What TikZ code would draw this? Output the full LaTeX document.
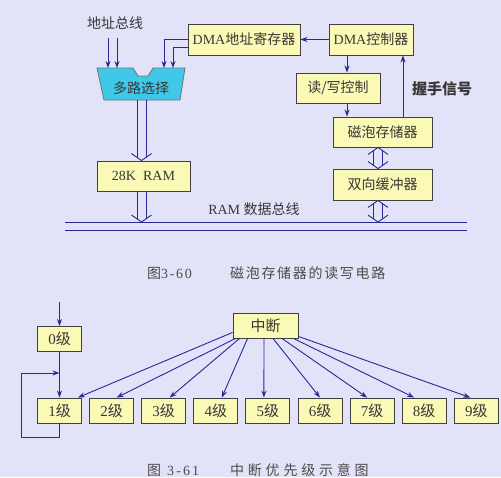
\documentclass[tikz,border=0pt]{standalone}
\usepackage{fontspec}
\setmainfont{Liberation Serif}
\newfontfamily\cjk{Noto Sans CJK SC}
\usetikzlibrary{arrows.meta}
\definecolor{bg}{RGB}{226,226,248}
\definecolor{boxy}{RGB}{250,250,182}
\definecolor{muxc}{RGB}{64,200,232}
\definecolor{ln}{RGB}{40,40,150}
\definecolor{txt}{RGB}{55,55,55}
% double-line arrow: #1 start, #2 end (vertically aligned), #3 = 1 if both ends have heads
\newcommand\DblArrow[3]{%
  \draw[conn] ([xshift=-4.5pt,yshift=3.2pt]#2) -- ([xshift=-4.5pt,yshift=-3.2pt*#3]#1);
  \draw[conn] ([xshift=4.5pt,yshift=3.2pt]#2) -- ([xshift=4.5pt,yshift=-3.2pt*#3]#1);
  \draw[conn] ([xshift=-10pt,yshift=7pt]#2) -- (#2) -- ([xshift=10pt,yshift=7pt]#2);
  \ifnum#3=1
    \draw[conn] ([xshift=-10pt,yshift=-7pt]#1) -- (#1) -- ([xshift=10pt,yshift=-7pt]#1);
  \fi}
\begin{document}
\begin{tikzpicture}[x=1pt,y=-1pt,
  box/.style={draw=black!75, fill=boxy, line width=0.9pt, inner sep=0pt, text=txt,
              font=\fontsize{14}{16}\selectfont},
  lvl/.style={box, minimum width=44pt, minimum height=25pt, font=\fontsize{15}{17}\selectfont},
  lbl/.style={text=txt, inner sep=0pt, font=\fontsize{14}{16}\selectfont},
  conn/.style={draw=ln, line width=0.9pt},
  arr/.style={conn, -{Stealth[length=7pt,width=5pt]}},
]
\fill[bg] (0,0) rectangle (501,477);
\useasboundingbox (0,0) rectangle (501,477);

% ---------- Figure 3-60 ----------
\node[lbl] (abus) at (115,23) {\cjk 地址总线};
\coordinate (ab1s) at (108,38); \coordinate (ab1e) at (108,68);
\coordinate (ab2s) at (117,38); \coordinate (ab2e) at (117,68);

\draw[draw=black!55, fill=muxc, line width=0.8pt]
  (97,68) -- (133,68) -- (138,76) -- (148,76) -- (153,68) -- (185,68)
  -- (180,100) -- (104,100) -- cycle;
\node[lbl] (mux) at (141,88) {\cjk 多路选择};
\coordinate (mxa) at (164,68);
\coordinate (mxb) at (173,68);
\coordinate (muxout) at (141.5,100);

\node[box, minimum width=112pt, minimum height=31pt] (dmaaddr) at (244,39.5) {DMA\cjk 地址寄存器};
\node[box, minimum width=84pt, minimum height=31pt] (dmactl) at (371,39.5) {DMA\cjk 控制器};
\node[box, minimum width=84pt, minimum height=30pt] (rw) at (338,88) {\cjk 读/写控制};
\node[box, minimum width=99pt, minimum height=30pt] (bub) at (382.5,132) {\cjk 磁泡存储器};
\node[box, minimum width=99pt, minimum height=31pt] (buf) at (382.5,184.5) {\cjk 双向缓冲器};
\node[box, minimum width=93pt, minimum height=30pt] (ram) at (143.5,176) {28K\ \ RAM};

\node[lbl, font=\fontsize{15}{17}\selectfont\bfseries] (hs) at (442,89) {\cjk\bfseries 握手信号};
\node[lbl] (busl) at (254,209) {RAM\ {\cjk 数据总线}};

\coordinate (busAl) at (65,222); \coordinate (busAr) at (467,222);
\coordinate (busBl) at (65,230); \coordinate (busBr) at (467,230);
\draw[conn] (busAl) -- (busAr);
\draw[conn] (busBl) -- (busBr);

\draw[arr] (ab1s) -- (ab1e);
\draw[arr] (ab2s) -- (ab2e);
\draw[arr] (dmaaddr.west) -| (mxa);
\draw[arr] ([yshift=-8pt]dmaaddr.west) -| (mxb);
\draw[arr] (dmactl.west) -- (dmaaddr.east);
\draw[arr] ([xshift=-24pt]dmactl.south) -- ([xshift=-24pt]dmactl.south |- rw.north);
\draw[arr] ([xshift=9pt]rw.south) -- ([xshift=9pt]rw.south |- bub.north);
\draw[arr] ([xshift=20.5pt]bub.north) -- ([xshift=20.5pt]bub.north |- dmactl.south);

\coordinate (ramin) at (muxout |- ram.north);
\coordinate (ramout) at ([xshift=-2pt]ram.south);
\coordinate (ramb) at (ramout |- busAl);
\coordinate (bubo) at ([xshift=-4.5pt]bub.south);
\coordinate (bufi) at ([xshift=-4.5pt]buf.north);
\coordinate (bufo) at ([xshift=-4.5pt]buf.south);
\coordinate (bufb) at (bufo |- busAl);
\DblArrow{muxout}{ramin}{0}
\DblArrow{ramout}{ramb}{0}
\DblArrow{bubo}{bufi}{1}
\DblArrow{bufo}{bufb}{1}

\node[lbl, anchor=west, text=black!70, font=\fontsize{14}{16}\selectfont] (cap1) at (147,273)
  {\makebox[83pt][l]{{\cjk 图}{\addfontfeature{LetterSpace=12}3-60}}{\cjk\addfontfeature{LetterSpace=12}磁泡存储器的读写电路}};

% ---------- Figure 3-61 ----------
\node[lvl] (l0) at (59.5,339) {0\cjk 级};
\foreach \i in {1,...,9}
  \node[lvl] (l\i) at ({59.5+52.1*(\i-1)},410.5) {\i\cjk 级};
\node[box, minimum width=65pt, minimum height=25pt, font=\fontsize{15}{17}\selectfont] (int) at (265.5,325.5) {\cjk 中断};

\coordinate (in0) at (59.5,302);
\coordinate (loopin) at (59.5,373);
\draw[arr] (in0) -- (l0.north);
\draw[arr] (l0.south) -- (l1.north);
\draw[arr] (l1.south) -- ++(0,14) -| (21,373) -- (loopin);

\draw[arr] ([yshift=6pt]int.south west) -- ([xshift=-4pt]l1.north east);
\draw[arr] ([xshift=3pt]int.south west) -- ([xshift=5pt]l2.north);
\draw[arr] ([xshift=7pt]int.south west) -- ([xshift=6pt]l3.north);
\draw[arr] ([xshift=15pt]int.south west) -- ([xshift=6pt]l4.north);
\draw[arr] ([xshift=-1.5pt]int.south) -- ([xshift=-4pt]l5.north);
\draw[arr] ([xshift=7.5pt]int.south) -- (l6.north);
\draw[arr] ([xshift=16.5pt]int.south) -- ([xshift=-5pt]l7.north);
\draw[arr] ([xshift=-5pt]int.south east) -- ([xshift=-10pt]l8.north);
\draw[arr] ([yshift=2pt]int.south east) -- ([xshift=-6pt]l9.north);

\node[lbl, anchor=west, text=black!70, font=\fontsize{14}{16}\selectfont] (cap2) at (147,470)
  {\makebox[83pt][l]{{\cjk 图}\hspace{6pt}{\addfontfeature{LetterSpace=15}3-61}}{\cjk\addfontfeature{LetterSpace=27}中断优先级示意图}};
\end{tikzpicture}
\end{document}
